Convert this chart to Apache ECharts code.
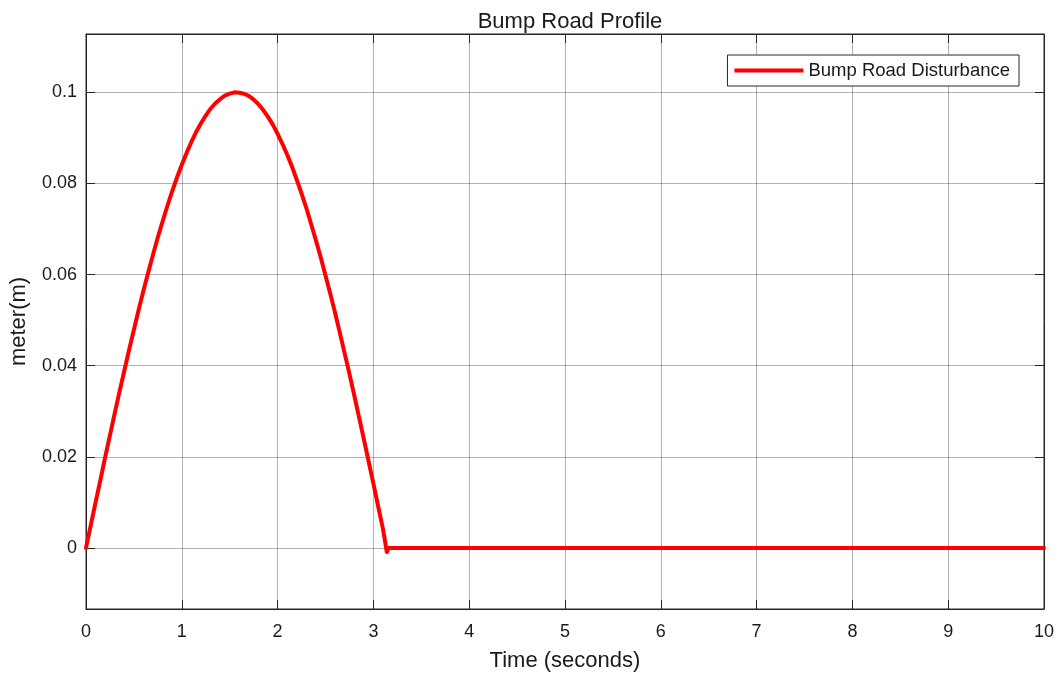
<!DOCTYPE html>
<html>
<head>
<meta charset="utf-8">
<script src="https://cdn.jsdelivr.net/npm/echarts@6/dist/echarts.min.js"></script>
<style>
  html, body { margin: 0; padding: 0; background: #fff; }
  #chart { width: 1059px; height: 677px; }
</style>
</head>
<body>
<div id="chart"></div>
<script>
// time (s) and road height (m)
const timeValues = [
  0, 0.05, 0.1, 0.15, 0.2, 0.25, 0.3, 0.35, 0.4, 0.45, 0.5,
  0.55, 0.6, 0.65, 0.7, 0.75, 0.8, 0.85, 0.9, 0.95, 1.0,
  1.05, 1.1, 1.15, 1.2, 1.25, 1.3, 1.35, 1.4, 1.45, 1.5,
  1.55, 1.6, 1.65, 1.7, 1.75, 1.8, 1.85, 1.9, 1.95, 2.0,
  2.05, 2.1, 2.15, 2.2, 2.25, 2.3, 2.35, 2.4, 2.45, 2.5,
  2.55, 2.6, 2.65, 2.7, 2.75, 2.8, 2.85, 2.9, 2.95, 3.0,
  3.05, 3.1, 3.14, 3.16, 10
]
const bumpValues = [
  0, 0.0050, 0.0100, 0.0149, 0.0199, 0.0247, 0.0296, 0.0343, 0.0389, 0.0435, 0.0479,
  0.0523, 0.0565, 0.0605, 0.0644, 0.0682, 0.0717, 0.0751, 0.0783, 0.0813, 0.0841,
  0.0867, 0.0891, 0.0913, 0.0932, 0.0949, 0.0964, 0.0976, 0.0985, 0.0993, 0.0997,
  0.1000, 0.0999, 0.0997, 0.0992, 0.0984, 0.0974, 0.0961, 0.0946, 0.0929, 0.0909,
  0.0887, 0.0863, 0.0837, 0.0808, 0.0778, 0.0746, 0.0711, 0.0675, 0.0638, 0.0598,
  0.0558, 0.0516, 0.0472, 0.0427, 0.0382, 0.0335, 0.0287, 0.0239, 0.0190, 0.0141,
  0.0091, 0.0042, -0.0009, 0, 0
]
const yTicks = [0, 0.02, 0.04, 0.06, 0.08, 0.1]

const FONT = 'Liberation Sans'
const axisColor = '#262626'
const textColor = '#1a1a1a'
const gridColor = 'rgba(0,0,0,0.3)'

const chart = echarts.init(document.getElementById('chart'))

const seriesData = timeValues.map((t, i) => [t, bumpValues[i]])

const options = {
  animation: false,
  textStyle: { fontFamily: FONT },
  title: {
    text: 'Bump Road Profile',
    left: 565,
    top: 6,
    textAlign: 'center',
    textStyle: { fontFamily: FONT, fontSize: 22, fontWeight: 'normal', color: textColor }
  },
  legend: {
    right: 40,
    top: 55,
    orient: 'horizontal',
    icon: 'rect',
    itemWidth: 69,
    itemHeight: 4,
    itemGap: 6,
    padding: [6, 9, 6, 7],
    borderColor: '#262626',
    borderWidth: 1,
    backgroundColor: '#fff',
    textStyle: { fontFamily: FONT, fontSize: 18.5, color: textColor },
    data: ['Bump Road Disturbance']
  },
  grid: {
    left: 86,
    right: 15,
    top: 34,
    bottom: 68,
    show: true,
    borderColor: axisColor,
    borderWidth: 1
  },
  xAxis: [
    {
      type: 'value',
      min: 0,
      max: 10,
      interval: 1,
      name: 'Time (seconds)',
      nameLocation: 'middle',
      nameGap: 41,
      nameTextStyle: { fontFamily: FONT, fontSize: 22, color: textColor },
      axisLine: { show: true, onZero: false, lineStyle: { color: axisColor } },
      axisTick: { show: true, inside: true, length: 9, lineStyle: { color: axisColor } },
      axisLabel: { fontFamily: FONT, fontSize: 18, color: textColor, margin: 14 },
      splitLine: { show: true, lineStyle: { color: gridColor, width: 1 } }
    },
    {
      type: 'value',
      position: 'top',
      min: 0,
      max: 10,
      interval: 1,
      axisLine: { show: true, onZero: false, lineStyle: { color: axisColor } },
      axisTick: { show: true, inside: true, length: 9, lineStyle: { color: axisColor } },
      axisLabel: { show: false },
      splitLine: { show: false }
    }
  ],
  yAxis: [
    {
      type: 'value',
      min: -0.0134,
      max: 0.1128,
      name: 'meter(m)',
      nameLocation: 'middle',
      nameGap: 56,
      nameRotate: 90,
      nameTextStyle: { fontFamily: FONT, fontSize: 22, color: textColor },
      axisLine: { show: true, onZero: false, lineStyle: { color: axisColor } },
      axisTick: { show: true, inside: true, length: 9, customValues: yTicks, lineStyle: { color: axisColor } },
      axisLabel: {
        fontFamily: FONT, fontSize: 18, color: textColor, margin: 9,
        customValues: yTicks,
        formatter: v => String(+v.toFixed(2))
      },
      splitLine: { show: true, lineStyle: { color: gridColor, width: 1 } }
    },
    {
      type: 'value',
      position: 'right',
      min: -0.0134,
      max: 0.1128,
      axisLine: { show: true, onZero: false, lineStyle: { color: axisColor } },
      axisTick: { show: true, inside: true, length: 9, customValues: yTicks, lineStyle: { color: axisColor } },
      axisLabel: { show: false },
      splitLine: { show: false }
    }
  ],
  series: [
    {
      name: 'Bump Road Disturbance',
      type: 'line',
      xAxisIndex: 0,
      yAxisIndex: 0,
      data: seriesData,
      smooth: false,
      showSymbol: false,
      symbol: 'none',
      color: '#ff0000',
      lineStyle: { color: '#ff0000', width: 4, join: 'round', cap: 'round' },
      z: 5
    }
  ]
}

chart.setOption(options)
</script>
</body>
</html>
